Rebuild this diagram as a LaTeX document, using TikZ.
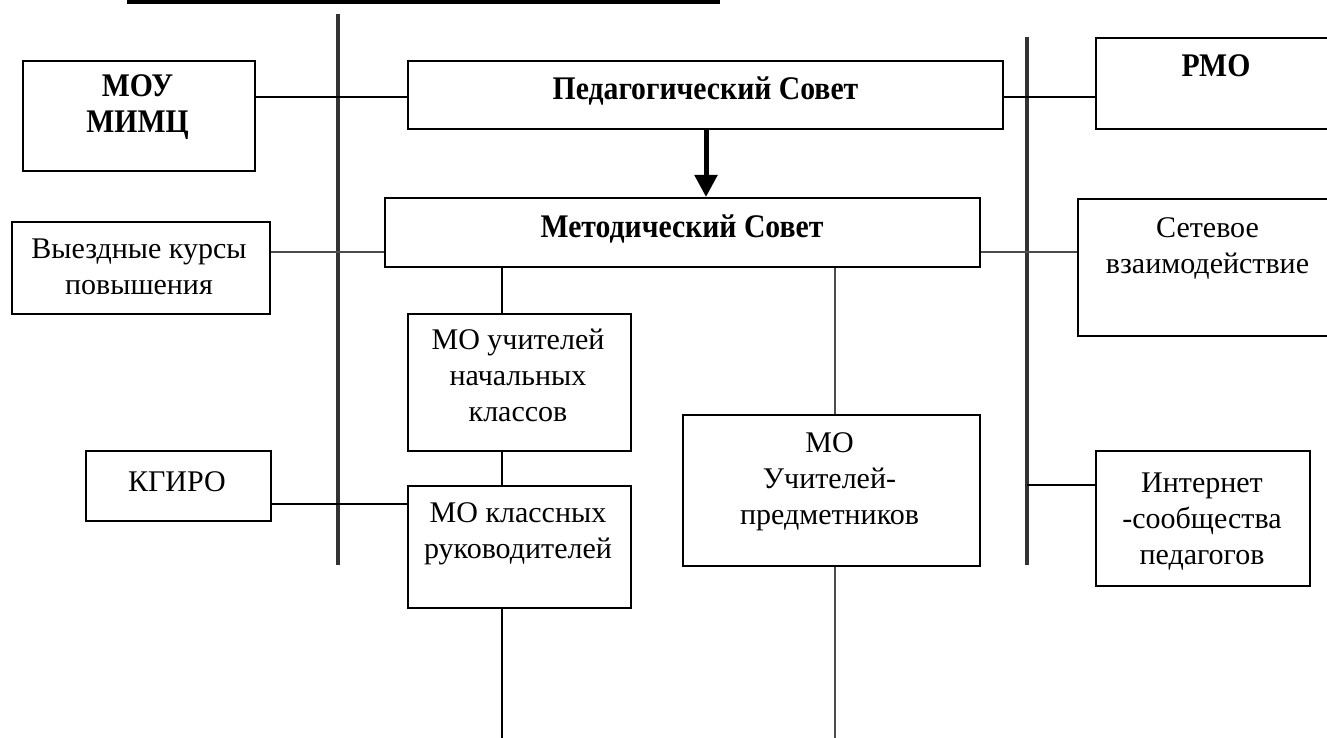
\documentclass[tikz,border=0pt]{standalone}
\usepackage{fontspec}
\setmainfont{Liberation Serif}
\newfontfamily\condfam[FakeStretch=0.9]{Liberation Serif}
\usetikzlibrary{arrows.meta}
\newcommand{\mlines}[1]{\begin{tabular}[t]{@{}c@{}}#1\end{tabular}}
\begin{document}
\begin{tikzpicture}[x=1pt,y=-1pt,
 box/.style={draw, line width=2pt, inner sep=0pt, anchor=north west},
 txt/.style={anchor=base, font=\fontsize{30}{36}\selectfont, inner sep=0pt},
 btxt/.style={anchor=base, font=\condfam\bfseries\fontsize{33}{36}\selectfont, inner sep=0pt},
 conn/.style={line width=1.6pt},
 thinconn/.style={line width=1.3pt, black!70},
 bar/.style={line width=3.5pt, black!80},
 bigarrow/.style={line width=5pt, -{Triangle[width=22pt,length=22pt]}}]
\useasboundingbox (0,0) rectangle (1327,738);

% top rule
\coordinate (r1) at (127,2);
\coordinate (r2) at (720,2);
\draw[line width=3.5pt] (r1) -- (r2);

% vertical bars
\coordinate (lv1) at (338,14);
\coordinate (lv2) at (338,565);
\coordinate (rv1) at (1027,37);
\coordinate (rv2) at (1027,565);
\draw[bar] (lv1) -- (lv2);
\draw[bar] (rv1) -- (rv2);

% boxes
\node[box, minimum width=232pt, minimum height=110pt] (mou) at (22,60) {};
\node[btxt] (mou-t) at (137.5,97) {\mlines{МОУ\\МИМЦ}};

\node[box, minimum width=595pt, minimum height=68pt] (ped) at (407,60) {};
\node[btxt] (ped-t) at (705.5,100) {Педагогический Совет};

\node[box, minimum width=250pt, minimum height=91pt] (pmo) at (1095,37) {};
\node[btxt] (pmo-t) at (1216,77) {РМО};

\node[box, minimum width=595pt, minimum height=69pt] (met) at (384,197) {};
\node[btxt] (met-t) at (682,237) {Методический Совет};

\node[box, minimum width=258pt, minimum height=92pt] (vyezd) at (11,221) {};
\node[txt] (vyezd-t) at (139,258) {\mlines{Выездные курсы\\повышения}};

\node[box, minimum width=260pt, minimum height=137pt] (set) at (1077,198) {};
\node[txt] (set-t) at (1207.5,237) {\mlines{Сетевое\\взаимодействие}};

\node[box, minimum width=223pt, minimum height=137pt] (nach) at (407,313) {};
\node[txt] (nach-t) at (518,349) {\mlines{МО учителей\\начальных\\классов}};

\node[box, minimum width=223pt, minimum height=122pt] (klass) at (407,485) {};
\node[txt] (klass-t) at (518,522) {\mlines{МО классных\\руководителей}};

\node[box, minimum width=185pt, minimum height=70pt] (kgiro) at (85,450) {};
\node[txt] (kgiro-t) at (177,491) {КГИРО};

\node[box, minimum width=297pt, minimum height=151pt] (pred) at (682,414) {};
\node[txt] (pred-t) at (829.5,452) {\mlines{МО\\Учителей-\\предметников}};

\node[box, minimum width=214pt, minimum height=135pt] (inet) at (1095,450) {};
\node[txt] (inet-t) at (1202,492) {\mlines{Интернет\\-сообщества\\педагогов}};

% connectors
\draw[conn] (mou.east |- 0,97) -- (ped.west |- 0,97);
\draw[conn] (ped.east |- 0,97) -- (pmo.west |- 0,97);
\draw[bigarrow] (ped.south -| 706,0) -- (met.north -| 706,0);
\draw[thinconn] (vyezd.east |- 0,252) -- (met.west |- 0,252);
\draw[thinconn] (met.east |- 0,252) -- (set.west |- 0,252);
\draw[conn] (met.south -| 502,0) -- (nach.north -| 502,0);
\draw[conn] (nach.south -| 502,0) -- (klass.north -| 502,0);
\draw[conn] (kgiro.east |- 0,504) -- (klass.west |- 0,504);
\draw[thinconn] (met.south -| 835,0) -- (pred.north -| 835,0);
\coordinate (predend) at (835,738);
\coordinate (klassend) at (502,738);
\draw[thinconn] (pred.south -| 835,0) -- (predend);
\draw[conn] (klass.south -| 502,0) -- (klassend);
\coordinate (rvj) at (1027,485);
\draw[conn] (rvj) -- (inet.west |- rvj);
\end{tikzpicture}
\end{document}
